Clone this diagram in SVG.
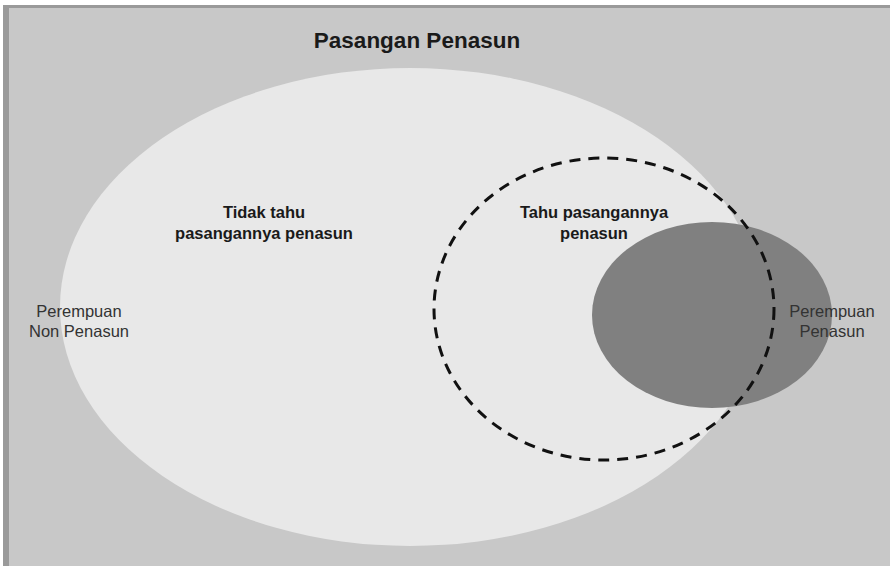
<svg xmlns="http://www.w3.org/2000/svg" width="890" height="566" viewBox="0 0 890 566">
<style>
.t{font-family:"Liberation Sans",Arial,sans-serif;fill:#1a1a1a;text-anchor:middle}
.b{font-weight:bold;font-size:16.5px}
.n{font-size:16.5px;fill:#333}
</style>
<rect x="0" y="0" width="890" height="566" fill="#ffffff"/>
<rect x="3" y="5" width="887" height="561" fill="#c8c8c8"/>
<rect x="3" y="5" width="887" height="3" fill="#9a9a9a"/>
<rect x="3" y="5" width="6" height="561" fill="#9a9a9a"/>
<g id="pasangan">
<ellipse cx="410" cy="307" rx="350" ry="239" fill="#e8e8e8"/>
<text class="t" x="417" y="48" style="font-weight:bold;font-size:22.5px">Pasangan Penasun</text>
<text class="t b" x="264" y="218">Tidak tahu</text>
<text class="t b" x="264" y="239">pasangannya penasun</text>
</g>
<g id="perempuan-penasun">
<ellipse cx="712" cy="315" rx="120" ry="93" fill="#808080"/>
</g>
<g id="tahu">
<ellipse cx="604" cy="309" rx="170" ry="151" fill="none" stroke="#111" stroke-width="3" stroke-dasharray="11,8"/>
<text class="t b" x="594" y="218">Tahu pasangannya</text>
<text class="t b" x="594" y="239">penasun</text>
</g>
<g id="labels">
<text class="t n" x="79" y="317">Perempuan</text>
<text class="t n" x="79" y="337">Non Penasun</text>
<text class="t n" x="832" y="317">Perempuan</text>
<text class="t n" x="832" y="337">Penasun</text>
</g>
<g id="connectors"></g>
</svg>
